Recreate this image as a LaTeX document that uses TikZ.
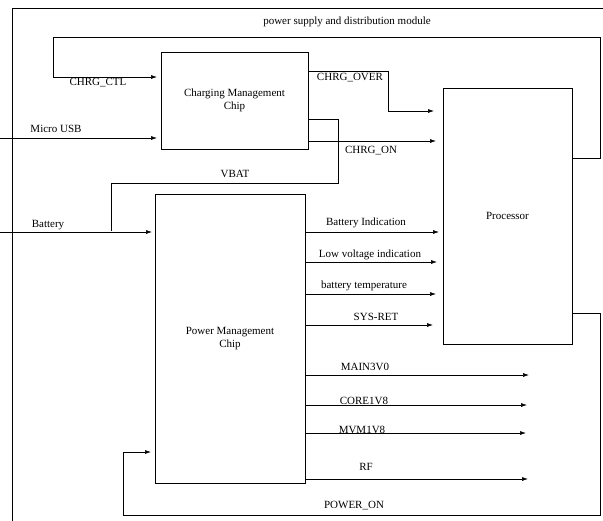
\documentclass[tikz,border=0pt]{standalone}
\usepackage{fontspec}
\setmainfont{Liberation Serif}
\usetikzlibrary{arrows.meta}
\newcommand{\epais}{0.6pt}

\begin{document}
\begin{tikzpicture}[x=1pt,y=-1pt,line width=\epais,>={Latex[length=6pt,width=4pt]},
    font=\fontsize{11}{12.5}\selectfont,
    chip/.style={draw,inner sep=0pt,outer sep=0pt,align=center},
    lab/.style={inner sep=0pt}]
        \useasboundingbox (0,0) rectangle (603,520);
        % module frame
        \draw (12,521) |- (604,8);
        \node[lab] (titre) at (347,22) {power supply and distribution module};
        % chips
        \node[chip,minimum width=147pt,minimum height=97pt] (chg) at (234.5,100.5) {Charging Management\\ Chip};
        \node[chip,minimum width=129pt,minimum height=256pt] (proc) at (507.5,216) {Processor};
        \node[chip,minimum width=150pt,minimum height=289pt] (pmc) at (230,338.5) {Power Management\\ Chip};
        % charging side
        \draw[->,shorten >=4pt] (proc.east |- 0,158) -| (600,37) -| (53,77) -- (chg.west |- 0,77);
        \node[lab] (ctl) at (98,83) {CHRG\_CTL};
        \coordinate (usb) at (0,138);
        \draw[->,shorten >=4pt] (usb) -- (chg.west |- usb);
        \node[lab] (usbl) at (56,129) {Micro USB};
        \draw[->,shorten >=9pt] (chg.east |- 0,71) -| (388,111) -- (proc.west |- 0,111);
        \node[lab] (over) at (350,78) {CHRG\_OVER};
        \draw[->,shorten >=7pt] (chg.east |- 0,141) -- (proc.west |- 0,141);
        \node[lab] (on) at (371,151) {CHRG\_ON};
        \coordinate (vbat) at (111,231);
        \draw (chg.east |- 0,119) -| (338,183) -| (vbat);
        \node[lab] (vbatl) at (235,174) {VBAT};
        % power management side
        \coordinate (bat) at (0,232);
        \draw[->,shorten >=3pt] (bat) -- (pmc.west |- bat);
        \node[lab] (batl) at (48,225) {Battery};
        \draw[->,shorten >=4pt] (pmc.east |- 0,232) -- (proc.west |- 0,232);
        \node[lab] (ind) at (366,223) {Battery Indication};
        \draw[->,shorten >=6pt] (pmc.east |- 0,262) -- (proc.west |- 0,262);
        \node[lab] (low) at (370,255) {Low voltage indication};
        \draw[->,shorten >=7pt] (pmc.east |- 0,294) -- (proc.west |- 0,294);
        \node[lab] (temp) at (364,286) {battery temperature};
        \draw[->,shorten >=10pt] (pmc.east |- 0,325) -- (proc.west |- 0,325);
        \node[lab] (ret) at (376,317) {SYS-RET};
        % supply outputs
        \coordinate (main) at (529,375);
        \draw[->] (pmc.east |- main) -- (main);
        \node[lab] (mainl) at (365,367) {MAIN3V0};
        \coordinate (core) at (527,405);
        \draw[->] (pmc.east |- core) -- (core);
        \node[lab] (corel) at (364,401) {CORE1V8};
        \coordinate (mvm) at (526,433);
        \draw[->] (pmc.east |- mvm) -- (mvm);
        \node[lab] (mvml) at (362,430) {MVM1V8};
        \coordinate (rf) at (528,479);
        \draw[->] (pmc.east |- rf) -- (rf);
        \node[lab] (rfl) at (366,467) {RF};
        % power on loop
        \draw[->,shorten >=4pt] (proc.east |- 0,313) -| (600,515) -| (123,452) -- (pmc.west |- 0,452);
        \node[lab] (pon) at (354,506) {POWER\_ON};
\end{tikzpicture}
\end{document}
